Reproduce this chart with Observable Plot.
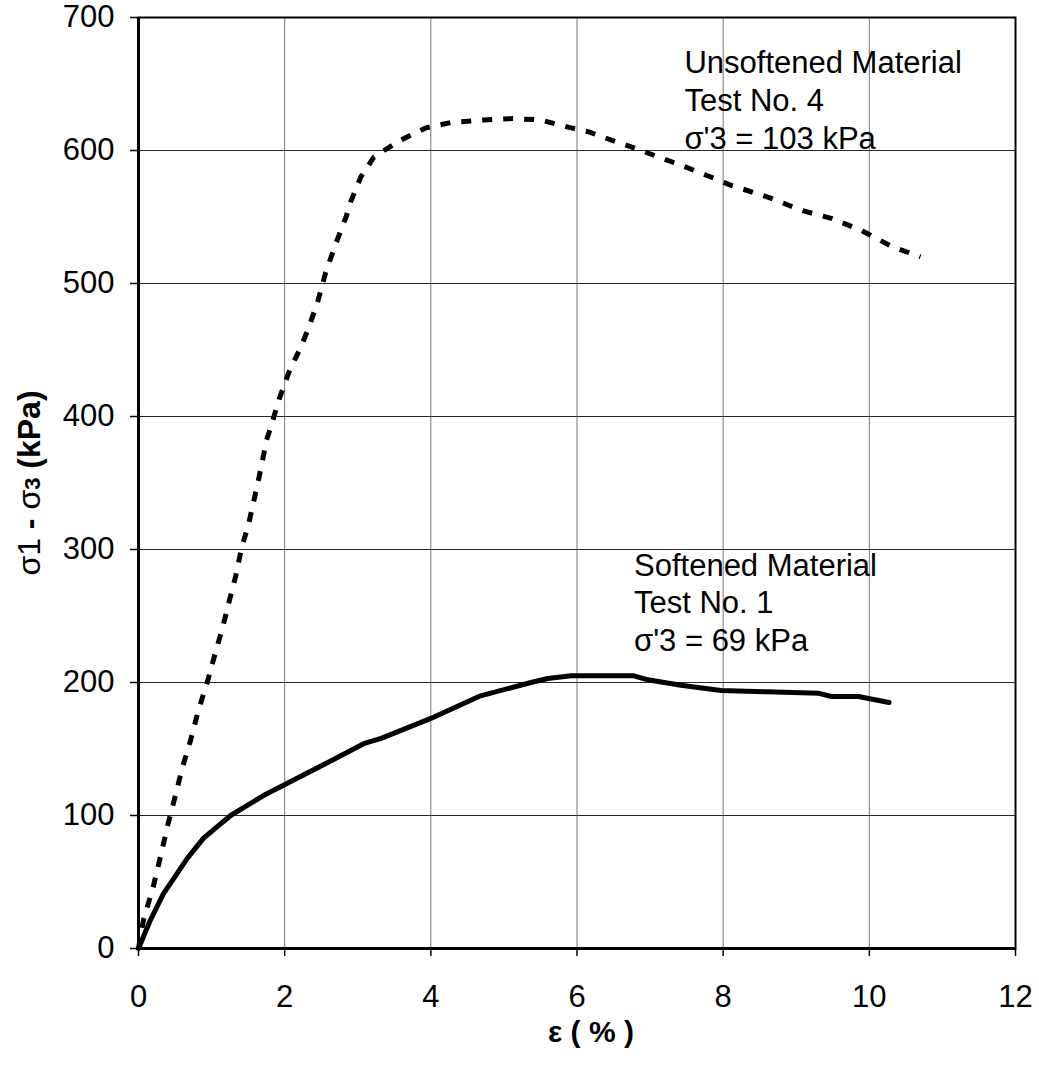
<!DOCTYPE html>
<html>
<head>
<meta charset="utf-8">
<script src="https://cdn.jsdelivr.net/npm/d3@7"></script>
<script src="https://cdn.jsdelivr.net/npm/@observablehq/plot@0.6"></script>
<style>
  html, body { margin: 0; padding: 0; background: #fff; }
</style>
</head>
<body>
<div id="chart"></div>
<script>
// Softened Material, Test No. 1 (solid)
const softStrain = [0, 0.16, 0.34, 0.67, 0.89, 1.26, 1.71, 1.99, 2.63, 3.08, 3.32, 4.0, 4.68, 5.37, 5.6, 5.92, 6.78, 6.97, 7.42, 7.97, 8.6, 9.3, 9.48, 9.85, 10.27];
const softStress = [0, 21, 41, 68, 83, 100, 115, 123, 141, 154, 158, 173, 190, 200, 203, 205, 205, 202, 198, 194, 193, 192, 189.5, 189.5, 185];

// Unsoftened Material, Test No. 4 (dashed)
const unsoftStrain = [0, 0.07, 0.2, 0.3, 0.41, 0.51, 0.6, 0.71, 0.82, 0.94, 1.05, 1.15, 1.25, 1.33, 1.41, 1.51, 1.6, 1.68, 1.75, 1.81, 1.93, 2.07, 2.22, 2.33, 2.45, 2.56, 2.7, 2.84, 2.9, 3.04, 3.22, 3.56, 3.93, 4.27, 4.73, 5.12, 5.5, 5.92, 6.16, 6.56, 6.78, 7.12, 7.42, 7.79, 8.1, 8.66, 9.07, 9.48, 9.89, 10.3, 10.7];
const unsoftStress = [0, 22, 46, 69, 95, 116, 136, 156, 179, 200, 222, 241, 263, 280, 301, 320, 342, 362, 382, 392, 414, 435, 452, 467, 486, 508, 530, 550, 561, 580, 595, 607, 617, 621, 623, 624, 623, 617, 614, 606, 602, 595, 589, 581, 574, 564, 555, 549, 540, 528, 520];

const xTicks = [0, 2, 4, 6, 8, 10, 12];
const yTicks = [0, 100, 200, 300, 400, 500, 600, 700];

const xLabel = "ε ( % )";
const yLabel = "σ1 - σ3 (kPa)";

const unsoftLabel = ["Unsoftened Material", "Test No. 4", "σ'3 = 103 kPa"];
const softLabel = ["Softened Material", "Test No. 1", "σ'3 = 69 kPa"];
const annotations = [
  {x: 7.47, y: 601.5, text: unsoftLabel.join("\n")},
  {x: 6.78, y: 224, text: softLabel.join("\n")}
];

const soft = softStrain.map((x, i) => ({x, y: softStress[i]}));
const unsoft = unsoftStrain.map((x, i) => ({x, y: unsoftStress[i]}));

const chart = Plot.plot({
  width: 1039,
  height: 1079,
  marginLeft: 138,
  marginRight: 24,
  marginTop: 17,
  marginBottom: 131,
  style: {fontFamily: "'Liberation Sans', Arial, sans-serif", fontSize: "31px", background: "#fff", color: "#000"},
  x: {domain: [0, 12]},
  y: {domain: [0, 700]},
  marks: [
    Plot.gridY(yTicks, {stroke: "#000", strokeOpacity: 0.85, strokeWidth: 1}),
    Plot.gridX(xTicks, {stroke: "#555", strokeOpacity: 0.8, strokeWidth: 1}),
    Plot.frame({stroke: "#000", strokeWidth: 2}),
    Plot.ruleX([0], {stroke: "#000", strokeWidth: 3}),
    Plot.ruleY([0], {stroke: "#000", strokeWidth: 3}),
    Plot.axisY(yTicks, {tickSize: 8, tickPadding: 16, label: null, strokeWidth: 1.5}),
    Plot.axisX(xTicks, {tickSize: 8, tickPadding: 28, label: null, strokeWidth: 1.5}),
    Plot.line(unsoft, {x: "x", y: "y", stroke: "#000", strokeWidth: 5, strokeDasharray: "10,11", strokeLinecap: "butt"}),
    Plot.line(soft, {x: "x", y: "y", stroke: "#000", strokeWidth: 5, strokeLinejoin: "round"}),
    Plot.text(annotations, {x: "x", y: "y", text: "text", textAnchor: "start", lineAnchor: "bottom", lineHeight: 1.21, fontSize: 31, fill: "#000"}),
    Plot.text([xLabel], {frameAnchor: "bottom", text: d => d, textAnchor: "middle", lineAnchor: "middle", dx: 14, dy: 84, fontWeight: "bold", fontSize: 30, fill: "#000"}),
    Plot.text([yLabel], {frameAnchor: "left", text: d => d, rotate: -90, textAnchor: "middle", lineAnchor: "middle", dx: -109, dy: 0, fontWeight: "bold", fontSize: 32, fill: "#000"})
  ]
});

document.getElementById("chart").appendChild(chart);

// render subscript "3" smaller in the y-axis label (keeps real text)
d3.select(chart).selectAll("text").each(function() {
  if (this.textContent === yLabel) {
    const t = d3.select(this);
    t.text(null);
    t.append("tspan").attr("font-weight", "normal").text("σ1");
    t.append("tspan").text(" - ");
    t.append("tspan").attr("font-weight", "normal").text("σ");
    t.append("tspan").attr("font-size", 22).text("3");
    t.append("tspan").text(" (kPa)");
  }
});
</script>
</body>
</html>
